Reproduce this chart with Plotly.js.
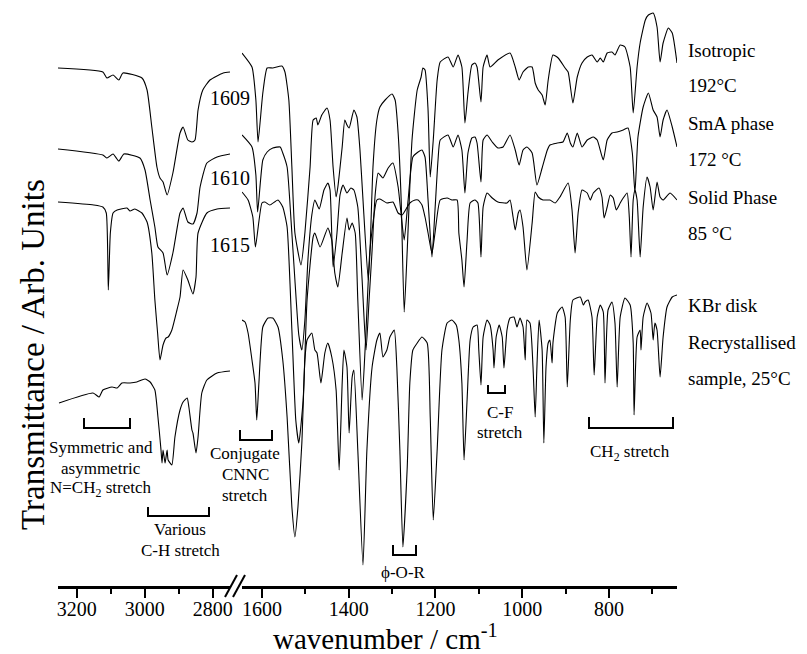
<!DOCTYPE html>
<html><head><meta charset="utf-8">
<script src="https://cdn.plot.ly/plotly-3.0.1.min.js"></script>
<style>html,body{margin:0;padding:0;background:#fff}#chart{width:807px;height:654px}</style>
</head><body><div id="chart"></div>
<script>
// ---------- DATA (wavenumber in cm-1, transmittance in arbitrary stacked units) ----------
// High-wavenumber segment (C-H region)
const isoLeftWn = [3255,3123,3111,3093,3076,3064,3008,2993,2979,2964,2955,2946,2934,2917,2896,2887,2873,2861,2852,2843,2829,2808,2769,2749];
const isoLeftT  = [5.18,5.14,5.08,5.11,5.06,5.13,5.08,4.96,4.59,4.19,4.08,4.04,3.91,4.13,4.53,4.59,4.46,4.44,4.46,4.76,4.96,5.06,5.13,5.14];

const smaLeftWn = [3255,3123,3111,3093,3076,3061,3014,2999,2984,2970,2961,2946,2934,2917,2896,2887,2873,2858,2846,2837,2817,2787,2749];
const smaLeftT  = [4.37,4.31,4.28,4.32,4.25,4.32,4.28,4.16,3.86,3.59,3.39,3.33,3.11,3.33,3.73,3.78,3.64,3.62,3.73,3.99,4.23,4.29,4.32];

const solidLeftWn = [3255,3150,3123,3113,3107,3101,3093,3081,3052,3043,3029,3008,2993,2979,2970,2962,2955,2946,2937,2931,2920,2905,2896,2887,2873,2858,2849,2843,2817,2787,2749];
const solidLeftT  = [3.84,3.81,3.79,3.73,2.96,3.53,3.73,3.76,3.78,3.75,3.77,3.73,3.64,3.33,2.86,2.53,2.26,2.41,2.48,2.49,2.56,2.76,2.89,3.16,3.06,2.92,3.09,3.53,3.73,3.77,3.78];

const kbrLeftWn = [3252,3152,3134,3123,3096,3081,3067,3043,3023,2999,2984,2970,2961,2952,2949,2946,2940,2934,2931,2920,2911,2896,2887,2875,2870,2861,2858,2849,2843,2832,2817,2787,2749];
const kbrLeftT  = [1.83,1.93,1.89,1.96,1.99,1.98,2.03,2.03,2.04,2.07,2.04,1.96,1.69,1.36,1.23,1.36,1.23,1.36,1.26,1.21,1.49,1.76,1.84,1.88,1.79,1.56,1.53,1.33,1.49,1.93,2.06,2.13,2.15];

// Fingerprint segment
const isoRightWn = [1646,1623,1614,1609,1598,1588,1575,1554,1547,1538,1531,1524,1510,1501,1489,1482,1475,1471,1462,1450,
  1443,1436,1429,1425,1415,1409,1404,1399,1388,1381,1374,1367,1355,1351,1344,1335,1328,1316,1300,1293,
  1286,1279,1272,1265,1254,1242,1233,1229,1224,1217,1212,1205,1196,1189,1171,1159,1148,1139,1132,1125,
  1116,1109,1104,1095,1090,1081,1074,1056,1028,1016,1007,998,986,977,970,963,954,947,940,929,
  917,901,894,883,873,862,850,839,827,820,813,804,793,786,774,763,751,744,735,728,
  716,709,698,689,682,675,663,654,643];
const isoRightT = [5.33,5.19,4.86,4.44,4.93,5.18,5.18,5.20,5.14,4.86,4.19,3.53,3.21,3.53,4.19,4.66,4.68,4.61,4.71,4.78,
  4.66,4.19,3.89,3.99,4.39,4.66,4.61,4.58,4.76,4.69,4.36,3.86,3.06,3.33,4.19,4.66,4.79,4.86,4.92,4.86,
  4.53,3.86,2.74,3.36,4.46,4.96,5.09,5.18,5.16,4.76,4.09,4.46,5.06,5.24,5.29,5.19,5.31,5.19,4.63,4.93,
  5.21,5.23,5.19,4.84,5.19,5.31,5.19,5.26,5.33,5.19,5.06,5.14,5.19,5.19,5.03,4.96,4.91,4.81,5.06,5.31,
  5.28,5.18,5.14,4.83,5.09,5.23,5.29,5.31,5.24,5.28,5.24,5.33,5.34,5.31,5.41,5.39,5.19,4.73,5.19,5.43,
  5.66,5.71,5.73,5.59,5.24,5.43,5.58,5.53,5.23];

const smaRightWn = [1646,1623,1614,1610,1598,1588,1575,1558,1552,1542,1533,1524,1515,1508,1501,1494,1485,1478,1468,1457,
  1448,1443,1436,1427,1420,1413,1404,1395,1388,1379,1369,1360,1353,1346,1339,1332,1321,1309,1298,1286,
  1279,1272,1263,1252,1240,1231,1224,1217,1208,1201,1194,1189,1171,1159,1148,1139,1132,1125,1116,1109,
  1104,1095,1090,1081,1069,1056,1044,1028,1016,1007,998,989,977,966,954,942,936,919,906,896,
  889,883,873,862,850,836,827,813,804,793,781,767,756,746,740,733,721,709,698,689,
  682,675,666,654,643];
const smaRightT = [4.51,4.39,4.11,3.74,4.26,4.34,4.38,4.39,4.33,4.19,3.66,3.06,2.51,2.36,2.66,3.26,3.71,3.86,3.77,3.96,
  4.03,3.96,3.19,3.53,3.91,4.01,3.93,3.98,3.96,3.79,3.06,2.36,2.86,3.36,3.91,4.13,4.08,4.18,4.23,3.99,
  3.71,3.46,3.86,4.29,4.34,4.36,4.29,3.86,3.29,3.76,4.26,4.46,4.51,4.39,4.51,4.36,3.93,4.33,4.48,4.49,
  4.43,4.04,4.46,4.51,4.44,4.38,4.39,4.51,4.36,4.21,4.36,4.39,4.33,4.01,4.18,4.36,4.41,4.43,4.44,4.53,
  4.43,4.39,4.53,4.39,4.46,4.49,4.46,4.26,4.46,4.53,4.54,4.56,4.58,4.33,3.93,4.49,4.79,4.93,4.76,4.69,
  4.49,4.66,4.76,4.59,4.39];

const solidRightWn = [1646,1632,1621,1615,1600,1593,1582,1563,1552,1542,1531,1522,1515,1505,1496,1482,1478,1466,1448,1439,
  1432,1425,1415,1404,1399,1392,1385,1379,1369,1360,1351,1335,1328,1312,1298,1286,1277,1265,1259,1247,
  1240,1231,1224,1217,1208,1201,1189,1173,1162,1150,1146,1139,1134,1127,1120,1109,1102,1095,1090,1081,
  1069,1056,1035,1028,1021,1016,1009,1005,998,989,977,970,963,952,936,924,913,894,885,878,
  871,862,850,843,836,823,816,811,804,797,790,783,774,767,758,753,749,744,740,735,
  728,721,712,705,698,689,682,675,659,643];
const solidRightT = [3.94,3.86,3.69,3.39,3.83,3.84,3.81,3.86,3.79,3.59,2.56,1.66,1.43,1.86,2.86,3.49,3.53,3.39,3.58,3.46,
  3.13,2.99,3.33,3.68,3.56,3.63,3.53,2.86,1.86,2.56,3.36,3.86,3.87,3.83,3.84,3.73,3.71,3.79,3.83,3.86,
  3.86,3.81,3.69,3.53,3.33,3.53,3.86,3.88,3.86,3.86,3.53,3.26,2.99,3.46,3.83,3.86,3.83,3.29,3.79,3.93,
  3.88,3.84,3.83,3.86,3.69,3.56,3.73,3.76,3.59,3.16,3.63,3.94,3.89,3.86,3.86,3.83,3.89,4.03,3.76,3.33,
  3.73,3.96,3.93,3.86,3.93,3.98,3.89,3.68,3.79,3.91,3.88,3.76,3.83,3.88,3.93,3.69,3.29,3.86,3.96,3.86,
  3.29,3.79,4.09,3.99,3.76,4.04,3.89,3.86,3.93,3.86];

const kbrRightWn = [1646,1639,1632,1623,1616,1612,1607,1598,1586,1575,1563,1552,1542,1531,1524,1517,1508,1501,1496,1485,
  1478,1473,1464,1455,1448,1439,1429,1422,1415,1411,1404,1399,1392,1388,1379,1367,1358,1346,1335,1328,
  1321,1312,1305,1295,1289,1282,1275,1265,1259,1252,1242,1231,1219,1212,1205,1196,1185,1173,1162,1152,
  1146,1139,1134,1127,1120,1113,1104,1100,1095,1090,1081,1074,1067,1065,1060,1053,1046,1042,1035,1028,
  1019,1012,1005,998,993,989,982,975,970,966,961,954,950,945,940,936,931,929,919,908,
  901,896,889,883,866,859,855,848,839,834,827,820,813,809,802,793,786,781,774,763,
  751,744,742,735,728,726,721,712,703,698,694,689,682,675,666,654,643];
const kbrRightT = [2.66,2.64,2.53,2.26,2.03,1.66,2.03,2.59,2.68,2.68,2.59,2.26,1.69,0.79,0.49,0.79,1.43,2.26,2.46,2.53,
  2.36,2.33,2.03,2.33,2.43,2.29,1.96,1.16,2.03,2.36,2.19,1.53,2.09,2.16,1.36,0.21,1.36,2.19,2.46,2.53,
  2.29,2.36,2.49,2.56,2.19,1.36,0.39,1.19,2.03,2.36,2.43,2.49,2.43,1.69,0.66,1.36,2.36,2.63,2.66,2.61,
  2.46,2.03,1.26,1.86,2.46,2.59,2.61,2.36,2.01,2.49,2.66,2.61,2.36,2.18,2.49,2.61,2.49,2.18,2.56,2.68,
  2.69,2.59,2.68,2.59,2.26,2.66,2.63,2.19,1.69,2.19,2.66,2.36,1.43,2.19,2.43,2.46,2.23,2.43,2.73,2.79,
  2.69,1.99,2.66,2.86,2.89,2.81,2.84,2.86,2.69,2.11,2.69,2.81,2.74,2.03,2.76,2.84,2.63,1.99,2.69,2.88,
  2.81,2.43,1.71,2.49,2.56,2.36,2.69,2.83,2.73,2.46,2.63,2.56,2.09,2.49,2.79,2.89,2.91];

const leftTicks = [3200, 3000, 2800];
const rightTicks = [1600, 1400, 1200, 1000, 800];
const peakLabels = ['1609', '1610', '1615'];
const seriesLabels = [['Isotropic','192°C'],['SmA phase','172 °C'],['Solid Phase','85 °C'],['KBr disk','Recrystallised','sample, 25°C']];

// ---------- LAYOUT HELPERS ----------
const W = 807, PH = 586;
const X = px => px / W;
const Y = py => (PH - py) / PH;
const FONT = '"Liberation Serif", "Times New Roman", Times, serif';

const lineStyle = {color:'#000', width:1.1, shape:'spline', smoothing:0.5};
function tr(x, y, xa){ return {x:x, y:y, xaxis:xa, yaxis:'y', type:'scatter', mode:'lines', line:lineStyle, hoverinfo:'skip'}; }

const traces = [
  tr(isoLeftWn, isoLeftT, 'x'), tr(smaLeftWn, smaLeftT, 'x'), tr(solidLeftWn, solidLeftT, 'x'), tr(kbrLeftWn, kbrLeftT, 'x'),
  tr(isoRightWn, isoRightT, 'x2'), tr(smaRightWn, smaRightT, 'x2'), tr(solidRightWn, solidRightT, 'x2'), tr(kbrRightWn, kbrRightT, 'x2')
];

function axis(domain, range, ticks){
  return {domain:domain, range:range, anchor:'y', showgrid:false, zeroline:false,
    showline:true, linewidth:2.5, linecolor:'#000',
    ticks:'outside', ticklen:9, tickwidth:2, tickcolor:'#000',
    tickmode:'array', tickvals:ticks, ticktext:ticks.map(String),
    ticklabelstandoff:-6,
    tickfont:{family:FONT, size:20, color:'#000'},
    minor:{dtick:100, tick0:0, ticks:'outside', ticklen:5, tickwidth:2, tickcolor:'#000', showgrid:false},
    fixedrange:true};
}

function bracket(x0, x1, yTop, yBot){
  return {type:'path', xref:'paper', yref:'paper',
    path:`M ${X(x0)},${Y(yTop)} L ${X(x0)},${Y(yBot)} L ${X(x1)},${Y(yBot)} L ${X(x1)},${Y(yTop)}`,
    line:{color:'#000', width:2}};
}
function seg(x0,y0,x1,y1){ return {type:'line', xref:'paper', yref:'paper', x0:X(x0), y0:Y(y0), x1:X(x1), y1:Y(y1), line:{color:'#000', width:2}}; }

function txt(text, px, py, size, anchor, extra){
  return Object.assign({text:text, xref:'paper', yref:'paper', x:X(px), y:Y(py), showarrow:false,
    xanchor:anchor||'center', yanchor:'middle', font:{family:FONT, size:size, color:'#000'}}, extra||{});
}

const annotations = [
  txt(peakLabels[0], 230, 98, 20), txt(peakLabels[1], 230, 178, 20), txt(peakLabels[2], 230, 245, 20),
  txt(seriesLabels[0][0], 686, 50, 19, 'left'), txt(seriesLabels[0][1], 686, 86, 19, 'left'),
  txt(seriesLabels[1][0], 686, 123, 19, 'left'), txt(seriesLabels[1][1], 686, 160, 19, 'left'),
  txt(seriesLabels[2][0], 686, 197, 19, 'left'), txt(seriesLabels[2][1], 686, 233, 19, 'left'),
  txt(seriesLabels[3][0], 686, 305, 19, 'left'), txt(seriesLabels[3][1], 686, 342, 19, 'left'), txt(seriesLabels[3][2], 686, 378, 19, 'left'),
  txt('Symmetric and', 101, 447, 17), txt('asymmetric', 101, 468, 17), txt('N=CH<sub>2</sub> stretch', 101, 489, 17),
  txt('Various', 180, 529, 17), txt('C-H stretch', 180, 550, 17),
  txt('Conjugate', 245, 453, 17), txt('CNNC', 245, 474, 17), txt('stretch', 245, 495, 17),
  txt('ϕ-O-R', 403, 572, 17),
  txt('C-F', 500, 412, 17), txt('stretch', 500, 432, 17),
  txt('CH<sub>2</sub> stretch', 630, 453, 17),
  txt('Transmittance / Arb. Units', 33, 355, 33, 'center', {textangle:-90}),
  txt('wavenumber / cm<sup>-1</sup>', 385, 637, 29)
];

const shapes = [
  seg(225, 597, 237, 575), seg(233, 597, 245, 575),
  bracket(84, 130, 418, 428),
  bracket(148, 209, 507, 516),
  bracket(240, 272, 430, 440),
  bracket(393, 416, 545, 555),
  bracket(488, 505, 385, 393),
  bracket(589, 673, 417, 428)
];

const layout = {
  width:807, height:654, margin:{l:0, r:0, t:0, b:68},
  paper_bgcolor:'#fff', plot_bgcolor:'rgba(0,0,0,0)', showlegend:false,
  font:{family:FONT, color:'#000'},
  xaxis: axis([58/W, 230/W], [3255, 2749], leftTicks),
  xaxis2: axis([242/W, 677/W], [1646, 643], rightTicks),
  yaxis: {domain:[0,1], range:[0, 5.86], visible:false, fixedrange:true},
  annotations: annotations, shapes: shapes
};

Plotly.newPlot('chart', traces, layout, {displayModeBar:false, staticPlot:true});
</script></body></html>
